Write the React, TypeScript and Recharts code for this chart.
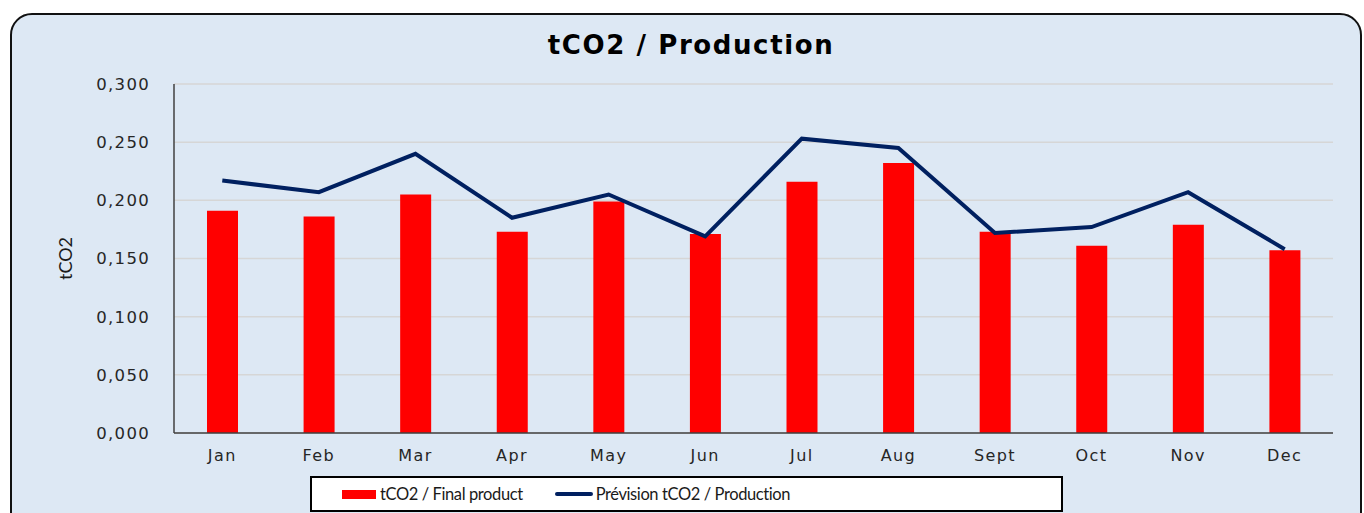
import {
  Bar,
  CartesianGrid,
  ComposedChart,
  Line,
  XAxis,
  YAxis,
} from "recharts";

const months = ["Jan", "Feb", "Mar", "Apr", "May", "Jun", "Jul", "Aug", "Sept", "Oct", "Nov", "Dec"];
const finalProduct = [0.191, 0.186, 0.205, 0.173, 0.199, 0.171, 0.216, 0.232, 0.173, 0.161, 0.179, 0.157];
const forecast = [0.217, 0.207, 0.240, 0.185, 0.205, 0.169, 0.253, 0.245, 0.172, 0.177, 0.207, 0.158];
const yTicks = [0, 0.05, 0.1, 0.15, 0.2, 0.25, 0.3];

const data = months.map((m, i) => ({
  month: m,
  final: finalProduct[i],
  forecast: forecast[i],
}));

const TICK_FONT = "'DejaVu Sans', Verdana, sans-serif";
const LEGEND_FONT = "Lato, 'Open Sans', sans-serif";

/** Excel-style boxed legend at the bottom. */
function BoxLegend() {
  return (
    <div
      style={{
        position: "absolute",
        left: 310,
        top: 476,
        width: 749,
        height: 32,
        background: "#fff",
        border: "2px solid #000",
        display: "flex",
        alignItems: "center",
        fontFamily: LEGEND_FONT,
        fontSize: 16.5,
        letterSpacing: -0.4,
        color: "#1a1a1a",
      }}
    >
      <span style={{ display: "inline-block", width: 34, height: 9, background: "#ff0000", marginLeft: 30 }} />
      <span style={{ marginLeft: 4 }}>tCO2 / Final product</span>
      <span
        style={{ display: "inline-block", width: 38, height: 4, borderRadius: 2, background: "#002060", marginLeft: 32 }}
      />
      <span style={{ marginLeft: 3 }}>Prévision tCO2 / Production</span>
    </div>
  );
}

export default function App() {
  return (
    <div style={{ position: "fixed", left: 0, top: 0, width: 1364, height: 513, overflow: "hidden", background: "#fff" }}>
      <div
        style={{
          position: "absolute",
          left: 10,
          top: 13,
          width: 1348,
          height: 540,
          border: "2px solid #111",
          borderRadius: 22,
          background: "#dde8f4",
        }}
      />
      <div
        style={{
          position: "absolute",
          left: 0,
          width: 1382,
          top: 30,
          textAlign: "center",
          fontFamily: TICK_FONT,
          fontWeight: "bold",
          fontSize: 26,
          letterSpacing: 1.6,
          color: "#000",
        }}
      >
        tCO2 / Production
      </div>
      <div style={{ position: "absolute", left: 0, top: 0 }}>
        <ComposedChart
          width={1364}
          height={513}
          data={data}
          margin={{ top: 84, right: 31, left: 94, bottom: 0 }}
          barCategoryGap={0}
        >
          <CartesianGrid vertical={false} stroke="#d6d6d6" strokeWidth={1.5} />
          <XAxis
            dataKey="month"
            height={80}
            axisLine={{ stroke: "#404040", strokeWidth: 1.5 }}
            tickLine={false}
            tickSize={0}
            tickMargin={17}
            interval={0}
            tick={{ fontFamily: TICK_FONT, fontSize: 16, fill: "#262626", letterSpacing: 1.4 }}
          />
          <YAxis
            width={80}
            domain={[0, 0.3]}
            ticks={yTicks}
            interval={0}
            axisLine={{ stroke: "#404040", strokeWidth: 1.5 }}
            tickLine={false}
            tickSize={0}
            tickMargin={24}
            tickFormatter={(v: number) => v.toFixed(3).replace(".", ",")}
            tick={{ fontFamily: TICK_FONT, fontSize: 16.5, fill: "#262626", letterSpacing: 1.3 }}
            label={{
              value: "tCO2",
              angle: -90,
              position: "insideLeft",
              offset: -28,
              style: { fontFamily: LEGEND_FONT, fontSize: 18, fill: "#1a1a1a", textAnchor: "middle" },
            }}
          />
          <Bar
            dataKey="final"
            name="tCO2 / Final product"
            fill="#ff0000"
            barSize={31}
            isAnimationActive={false}
          />
          <Line
            dataKey="forecast"
            name="Prévision tCO2 / Production"
            type="linear"
            stroke="#002060"
            strokeWidth={4}
            dot={false}
            activeDot={false}
            isAnimationActive={false}
          />
        </ComposedChart>
      </div>
      <BoxLegend />
    </div>
  );
}
